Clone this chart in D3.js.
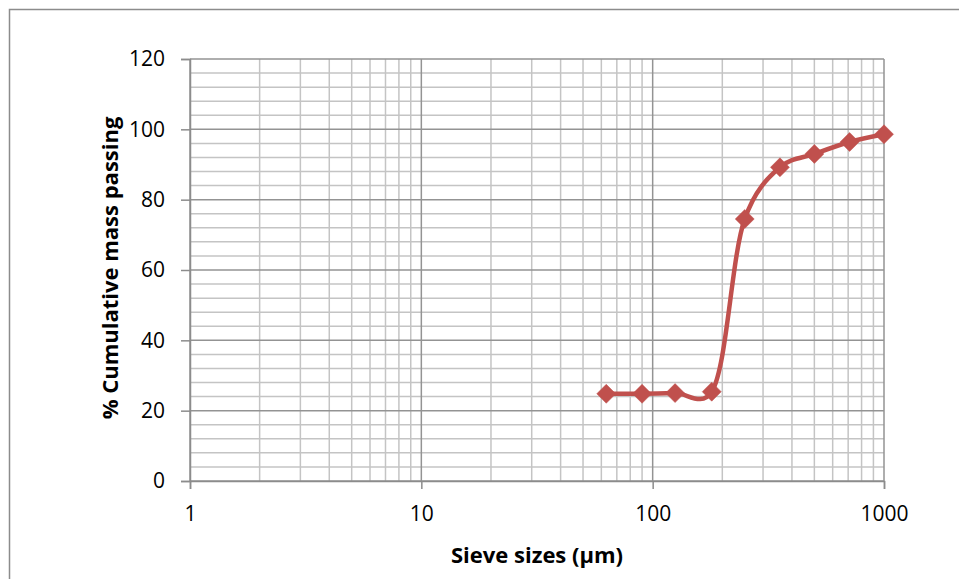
<!DOCTYPE html>
<html>
<head>
<meta charset="utf-8">
<script src="https://cdn.jsdelivr.net/npm/d3@7/dist/d3.min.js"></script>
<style>
  html, body { margin: 0; padding: 0; background: #fff; }
  svg text { font-family: "Open Sans", sans-serif; }
</style>
</head>
<body>
<svg id="chart" width="959" height="579"></svg>
<script>
// Sieve sizes (µm) and cumulative mass passing (%)
const sieveSizes = [63, 90, 125, 180, 250, 355, 500, 710, 1000];
const massPassing = [24.8, 24.8, 25.0, 25.4, 74.5, 89.2, 93.0, 96.4, 98.6];
const xTicks = [1, 10, 100, 1000];
const yTicks = [0, 20, 40, 60, 80, 100, 120];

const FONT = "'Open Sans', sans-serif";
const svg = d3.select("#chart");
const m = { left: 190, right: 884, top: 59, bottom: 481 };

// Outer chart frame
svg.append("rect")
  .attr("x", 9.5).attr("y", 9.5)
  .attr("width", 1000).attr("height", 1000)
  .attr("fill", "none").attr("stroke", "#8c8c8c").attr("stroke-width", 1.5);

const x = d3.scaleLog().domain([1, 1000]).range([m.left, m.right]);
const y = d3.scaleLinear().domain([0, 120]).range([m.bottom, m.top]);

// Minor grid
const minorX = [];
for (let dec = 1; dec < 1000; dec *= 10)
  for (let k = 2; k <= 9; k++) minorX.push(dec * k);
const minorY = d3.range(0, 121, 4).filter(v => v % 20 !== 0);

const grid = svg.append("g");
grid.selectAll(".mx").data(minorX).join("line")
  .attr("x1", d => x(d)).attr("x2", d => x(d))
  .attr("y1", m.top).attr("y2", m.bottom)
  .attr("stroke", "#c4c4c4").attr("stroke-width", 1.5);
grid.selectAll(".my").data(minorY).join("line")
  .attr("x1", m.left).attr("x2", m.right)
  .attr("y1", d => y(d)).attr("y2", d => y(d))
  .attr("stroke", "#c4c4c4").attr("stroke-width", 1.5);

// Major grid
grid.selectAll(".Mx").data(xTicks).join("line")
  .attr("x1", d => x(d)).attr("x2", d => x(d))
  .attr("y1", m.top).attr("y2", m.bottom)
  .attr("stroke", "#939393").attr("stroke-width", 1.5);
grid.selectAll(".My").data(yTicks).join("line")
  .attr("x1", m.left).attr("x2", m.right)
  .attr("y1", d => y(d)).attr("y2", d => y(d))
  .attr("stroke", "#939393").attr("stroke-width", 1.5);

// Axes
const xAxis = d3.axisBottom(x).tickValues(xTicks).tickFormat(d3.format("d"))
  .tickSize(8).tickPadding(17);
const yAxis = d3.axisLeft(y).tickValues(yTicks).tickSize(9).tickPadding(16);

const gx = svg.append("g").attr("transform", `translate(0,${m.bottom})`).call(xAxis);
const gy = svg.append("g").attr("transform", `translate(${m.left},0)`).call(yAxis);
[gx, gy].forEach(g => {
  g.attr("font-family", FONT).attr("font-size", 21);
  g.select(".domain").attr("stroke", "#8c8c8c").attr("stroke-width", 1.5);
  g.selectAll(".tick line").attr("stroke", "#8c8c8c").attr("stroke-width", 1.5);
  g.selectAll(".tick text").attr("fill", "#000");
});

// Smoothed curve
const line = d3.line()
  .x((d, i) => x(sieveSizes[i]))
  .y(d => y(d))
  .curve(d3.curveCatmullRom.alpha(0.25));

svg.append("path")
  .datum(massPassing)
  .attr("d", line)
  .attr("fill", "none")
  .attr("stroke", "#C0504D")
  .attr("stroke-width", 4.5)
  .attr("stroke-linejoin", "round");

// Diamond markers
svg.selectAll(".pt").data(massPassing).join("path")
  .attr("transform", (d, i) => `translate(${x(sieveSizes[i])},${y(d)})`)
  .attr("d", "M0,-9.5 L9.5,0 L0,9.5 L-9.5,0 Z")
  .attr("fill", "#C0504D")
  .attr("stroke", "#C0504D")
  .attr("stroke-width", 0.5);

// Axis titles
svg.append("text")
  .attr("x", 537).attr("y", 563)
  .attr("text-anchor", "middle")
  .attr("font-family", FONT)
  .attr("font-size", 22).attr("font-weight", "bold")
  .text("Sieve sizes (µm)");

svg.append("text")
  .attr("transform", "translate(118,268) rotate(-90)")
  .attr("text-anchor", "middle")
  .attr("font-family", FONT)
  .attr("font-size", 22).attr("font-weight", "bold")
  .text("% Cumulative mass passing");
</script>
</body>
</html>
